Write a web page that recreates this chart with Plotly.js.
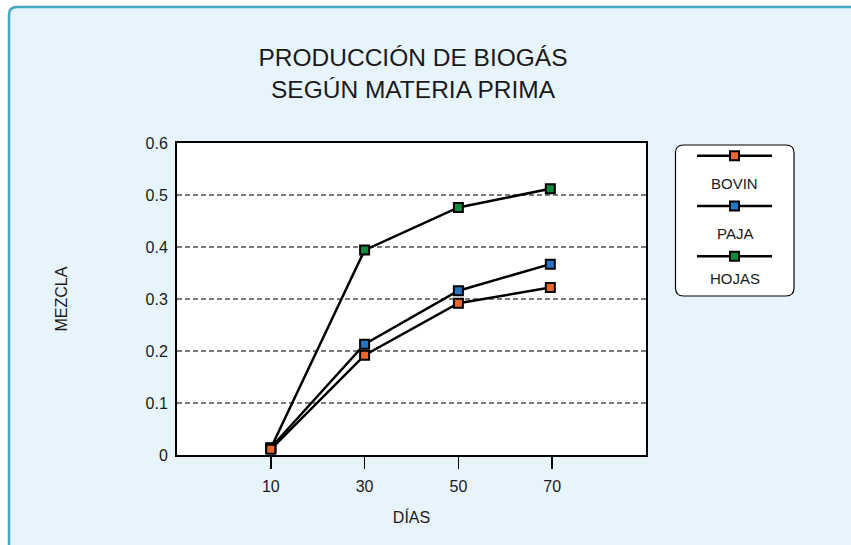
<!DOCTYPE html>
<html>
<head>
<meta charset="utf-8">
<script src="https://cdn.plot.ly/plotly-3.0.1.min.js"></script>
<style>
  html, body { margin: 0; padding: 0; background: #ffffff; }
  #chart { width: 851px; height: 545px; }
</style>
</head>
<body>
<div id="chart"></div>
<script>
// ---- Data ----
const dias = [10, 30, 50, 69.6];
const tickDias = [10, 30, 50, 70];
const tickDiasLabels = ['10', '30', '50', '70'];
const seriesNames = ['BOVIN', 'PAJA', 'HOJAS'];
const seriesColors = ['#e8692b', '#2476c4', '#108a3b'];
const bovin = [0.011, 0.192, 0.292, 0.322];
const paja = [0.014, 0.213, 0.316, 0.367];
const hojas = [0.013, 0.394, 0.476, 0.512];
const yTicks = [0, 0.1, 0.2, 0.3, 0.4, 0.5, 0.6];
const yTickLabels = ['0', '0.1', '0.2', '0.3', '0.4', '0.5', '0.6'];
const titleText = 'PRODUCCIÓN DE BIOGÁS<br>SEGÚN MATERIA PRIMA';
const xTitle = 'DÍAS';
const yTitle = 'MEZCLA';

// ---- helpers: pixel -> paper ----
const W = 851, H = 545;
const px = v => v / W;
const py = v => (H - v) / H;

const FONT = 'Liberation Sans, Arial, sans-serif';
const TXT = '#1a1a1a';

const seriesValues = [bovin, paja, hojas];

const traces = [];
// draw HOJAS first, BOVIN last (on top)
[2, 1, 0].forEach(i => {
  traces.push({
    type: 'scatter', mode: 'lines+markers',
    x: dias, y: seriesValues[i], name: seriesNames[i],
    xaxis: 'x', yaxis: 'y',
    line: { color: '#000000', width: 2.5 },
    marker: { symbol: 'square', size: 9, opacity: 1, color: seriesColors[i], line: { color: '#000000', width: 2 } },
    showlegend: false, hoverinfo: 'x+y+name'
  });
});

// custom legend (sample line + marker, name below) on a helper axis pair
const legendRowPx = [155.7, 206, 256];      // sample line rows (px from top)
const legendTextPx = [183.5, 233.5, 278.5]; // name rows (px from top)
const annotations = [];
seriesNames.forEach((nm, i) => {
  traces.push({
    type: 'scatter', mode: 'lines+markers',
    x: [-1, 0, 1], y: [i, i, i],
    xaxis: 'x2', yaxis: 'y2',
    line: { color: '#000000', width: 2.5 },
    marker: { symbol: 'square', size: [0, 9, 0], opacity: 1, color: seriesColors[i], line: { color: '#000000', width: [0, 2, 0] } },
    showlegend: false, hoverinfo: 'skip'
  });
  annotations.push({
    xref: 'paper', yref: 'paper', x: px(734.5), y: py(legendTextPx[i]),
    text: nm, showarrow: false,
    font: { family: FONT, size: 15, color: TXT },
    xanchor: 'center', yanchor: 'middle'
  });
});

function roundRect(x0, y0, x1, y1, r) {
  const X = px, Y = py;
  return `M ${X(x0 + r)},${Y(y0)} L ${X(x1 - r)},${Y(y0)} Q ${X(x1)},${Y(y0)} ${X(x1)},${Y(y0 + r)} ` +
         `L ${X(x1)},${Y(y1 - r)} Q ${X(x1)},${Y(y1)} ${X(x1 - r)},${Y(y1)} ` +
         `L ${X(x0 + r)},${Y(y1)} Q ${X(x0)},${Y(y1)} ${X(x0)},${Y(y1 - r)} ` +
         `L ${X(x0)},${Y(y0 + r)} Q ${X(x0)},${Y(y0)} ${X(x0 + r)},${Y(y0)} Z`;
}

const shapes = [
  // white area outside the rounded frame
  {
    type: 'path', xref: 'paper', yref: 'paper', layer: 'below',
    path: `M ${px(0)},${py(0)} L ${px(W)},${py(0)} L ${px(W)},${py(7)} L ${px(17)},${py(7)} ` +
          `Q ${px(9)},${py(7)} ${px(9)},${py(15)} L ${px(9)},${py(H)} L ${px(0)},${py(H)} Z`,
    fillcolor: '#ffffff', line: { width: 0 }
  },
  // frame line
  {
    type: 'path', xref: 'paper', yref: 'paper', layer: 'below',
    path: `M ${px(9)},${py(H + 2)} L ${px(9)},${py(15)} Q ${px(9)},${py(7)} ${px(17)},${py(7)} L ${px(W + 2)},${py(7)}`,
    line: { color: '#47a5c7', width: 2.5 }
  },
  // legend box
  {
    type: 'path', xref: 'paper', yref: 'paper', layer: 'below',
    path: roundRect(675.5, 145, 794, 296, 8),
    fillcolor: '#ffffff', line: { color: '#000000', width: 1.2 }
  }
];

// legend helper axis: rows 0,1,2 at legendRowPx, 50px apart
const rowStep = legendRowPx[1] - legendRowPx[0];
const y2TopPx = 150, y2BotPx = 262;

const layout = {
  width: W, height: H,
  margin: { l: 0, r: 0, t: 0, b: 0 },
  paper_bgcolor: '#e8f4fc',
  plot_bgcolor: '#ffffff',
  font: { family: FONT, color: TXT },
  showlegend: false,
  title: {
    text: titleText,
    font: { family: FONT, size: 24.5, color: TXT },
    xref: 'container', yref: 'container',
    x: px(413), xanchor: 'center',
    y: 1 - 66 / H, yanchor: 'top'
  },
  xaxis: {
    domain: [px(177), px(646)],
    range: [-10, 90],
    tickmode: 'array', tickvals: tickDias, ticktext: tickDiasLabels,
    ticks: 'outside', ticklen: 12, tickwidth: 1.5, tickcolor: '#000000',
    ticklabelstandoff: 4,
    showgrid: false, zeroline: false,
    showline: true, linecolor: '#000000', linewidth: 2, mirror: true,
    tickfont: { family: FONT, size: 16, color: TXT },
    title: { text: xTitle, font: { family: FONT, size: 16, color: TXT }, standoff: 18 },
    fixedrange: true
  },
  yaxis: {
    domain: [py(455), py(143)],
    range: [0, 0.6],
    tickmode: 'array', tickvals: yTicks, ticktext: yTickLabels,
    ticks: '', ticklabelstandoff: 4,
    showgrid: true, gridcolor: '#7a7a7a', gridwidth: 2, griddash: '5px,3px',
    zeroline: false,
    showline: true, linecolor: '#000000', linewidth: 2, mirror: true,
    tickfont: { family: FONT, size: 16, color: TXT },
    title: { text: yTitle, font: { family: FONT, size: 16, color: TXT }, standoff: 74 },
    fixedrange: true
  },
  xaxis2: {
    domain: [px(697), px(772)], range: [-1, 1], anchor: 'y2',
    visible: false, fixedrange: true
  },
  yaxis2: {
    domain: [py(y2BotPx), py(y2TopPx)],
    range: [(y2BotPx - legendRowPx[0]) / rowStep, (y2TopPx - legendRowPx[0]) / rowStep],
    anchor: 'x2',
    visible: false, fixedrange: true
  },
  shapes: shapes,
  annotations: annotations
};

Plotly.newPlot('chart', traces, layout, { displayModeBar: false, staticPlot: true });
</script>
</body>
</html>
